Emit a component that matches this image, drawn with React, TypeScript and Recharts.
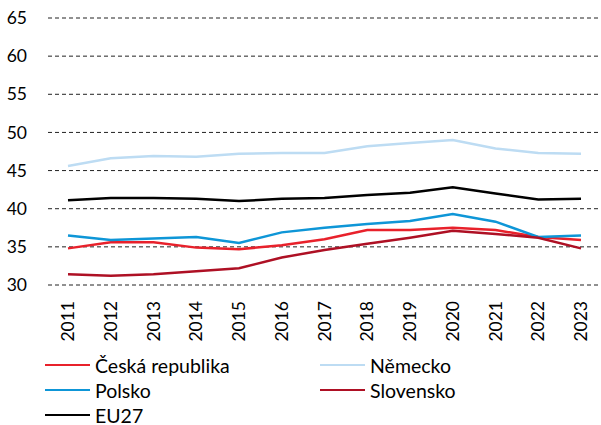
import React from "react";
import { LineChart, Line, XAxis, YAxis, CartesianGrid, Legend } from "recharts";

const years = ["2011", "2012", "2013", "2014", "2015", "2016", "2017", "2018", "2019", "2020", "2021", "2022", "2023"];

const czech = [34.8, 35.6, 35.6, 34.9, 34.7, 35.2, 36.0, 37.2, 37.2, 37.5, 37.2, 36.3, 35.9];
const germany = [45.6, 46.6, 46.9, 46.8, 47.2, 47.3, 47.3, 48.2, 48.6, 49.0, 47.9, 47.3, 47.2];
const poland = [36.5, 35.9, 36.1, 36.3, 35.5, 36.9, 37.5, 38.0, 38.4, 39.3, 38.3, 36.3, 36.5];
const slovakia = [31.4, 31.2, 31.4, 31.8, 32.2, 33.6, 34.6, 35.4, 36.2, 37.1, 36.7, 36.2, 34.8];
const eu27 = [41.1, 41.4, 41.4, 41.3, 41.0, 41.3, 41.4, 41.8, 42.1, 42.8, 42.0, 41.2, 41.3];

const yTicks = [30, 35, 40, 45, 50, 55, 60, 65];

const series = [
  { key: "cz", name: "Česká republika", color: "#E8212B" },
  { key: "de", name: "Německo", color: "#BDDCF3" },
  { key: "pl", name: "Polsko", color: "#0E96D7" },
  { key: "sk", name: "Slovensko", color: "#AE1024" },
  { key: "eu", name: "EU27", color: "#000000" },
];

const data = years.map((year, i) => ({
  year,
  cz: czech[i],
  de: germany[i],
  pl: poland[i],
  sk: slovakia[i],
  eu: eu27[i],
}));

const font = "Lato, 'Open Sans', sans-serif";

// rotated year label, centred on the category
const YearTick = (props: any) => {
  const { x, y, payload } = props;
  return (
    <text
      transform={`translate(${x + 6},${y + 14}) rotate(-90)`}
      textAnchor="end"
      fill="#000"
      fontSize={17.5}
      fontFamily={font}
    >
      {payload.value}
    </text>
  );
};

const LegendBox = () => (
  <div
    style={{
      display: "grid",
      gridTemplateColumns: "275px 240px",
      rowGap: 3,
      paddingLeft: 45,
      paddingTop: 9,
      fontFamily: font,
      fontSize: 19.5,
      color: "#000",
    }}
  >
    {series.map((s) => (
      <div key={s.key} style={{ display: "flex", alignItems: "center", height: 22 }}>
        <span style={{ width: 45, height: 2.5, background: s.color, marginRight: 5 }} />
        <span>{s.name}</span>
      </div>
    ))}
  </div>
);

export default function App() {
  return (
    <div style={{ position: "absolute", left: 0, top: 0, background: "#fff" }}>
      <LineChart width={601} height={425} data={data} margin={{ top: 18, right: 0, left: 0, bottom: 0 }}>
        <CartesianGrid vertical={false} stroke="#222" strokeDasharray="4 3" />
        <XAxis
          dataKey="year"
          axisLine={false}
          tickLine={false}
          tickSize={0}
          interval={0}
          height={60}
          padding={{ left: 20, right: 20 }}
          tick={<YearTick />}
        />
        <YAxis
          domain={[30, 65]}
          ticks={yTicks}
          axisLine={false}
          tickLine={false}
          tickSize={0}
          tickMargin={21}
          width={48}
          tick={{ fill: "#000", fontSize: 17.5, fontFamily: font }}
        />
        <Legend verticalAlign="bottom" height={80} content={<LegendBox />} />
        {series.map((s) => (
          <Line
            key={s.key}
            type="linear"
            dataKey={s.key}
            name={s.name}
            stroke={s.color}
            strokeWidth={2.5}
            dot={false}
            isAnimationActive={false}
          />
        ))}
      </LineChart>
    </div>
  );
}
